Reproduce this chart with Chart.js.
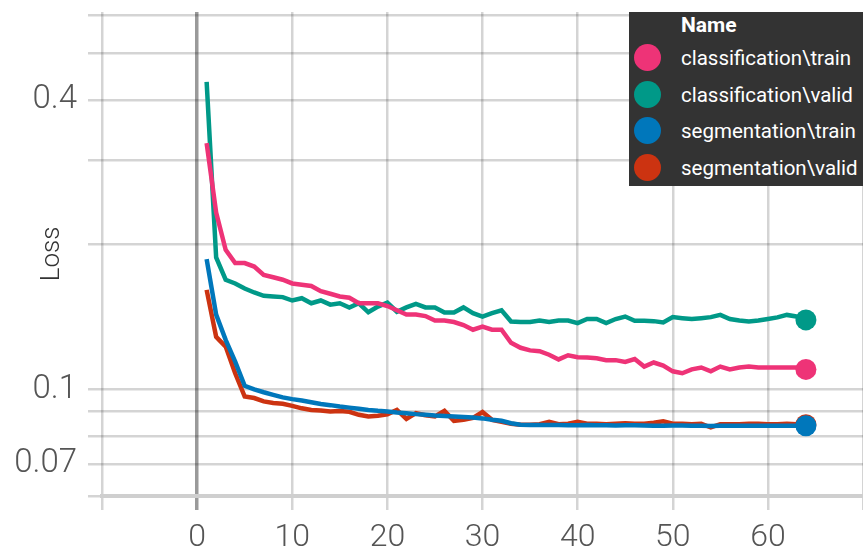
<!DOCTYPE html>
<html>
<head>
<meta charset="utf-8">
<script src="https://cdn.jsdelivr.net/npm/chart.js@4.4.1/dist/chart.umd.min.js"></script>
<style>
  html, body { margin: 0; padding: 0; background: #fff; }
  #wrap { position: relative; width: 863px; height: 554px; overflow: hidden; }
  #legend {
    position: absolute; left: 629px; top: 12px; width: 240px; height: 174px;
    background: #333; color: #fff; font-family: Roboto, sans-serif;
  }
  #legend .head { position: absolute; left: 52px; top: 0; line-height: 27px; font-size: 21px; font-weight: bold; }
  #legend .row { position: absolute; left: 0; height: 36px; line-height: 36px; font-size: 20.5px; white-space: nowrap; }
  #legend .dot { position: absolute; left: 5px; top: 4px; width: 27px; height: 27px; border-radius: 50%; }
  #legend .txt { position: absolute; left: 52px; top: 0; }
</style>
</head>
<body>
<div id="wrap">
  <canvas id="chart" width="863" height="554"></canvas>
  <div id="legend"><div class="head">Name</div></div>
</div>
<script>
// epochs
const steps = [1, 2, 3, 4, 5, 6, 7, 8, 9, 10, 11, 12, 13, 14, 15, 16, 17, 18, 19, 20,
  21, 22, 23, 24, 25, 26, 27, 28, 29, 30, 31, 32, 33, 34, 35, 36, 37, 38, 39, 40,
  41, 42, 43, 44, 45, 46, 47, 48, 49, 50, 51, 52, 53, 54, 55, 56, 57, 58, 59, 60,
  61, 62, 63, 64];

const seriesNames = ['classification\\train', 'classification\\valid', 'segmentation\\train', 'segmentation\\valid'];

const clsTrain = [0.325, 0.233, 0.195, 0.183, 0.183, 0.180, 0.173, 0.171, 0.169, 0.166,
  0.165, 0.164, 0.160, 0.158, 0.156, 0.155, 0.151, 0.151, 0.151, 0.149,
  0.146, 0.143, 0.143, 0.142, 0.139, 0.139, 0.138, 0.136, 0.133, 0.135,
  0.133, 0.133, 0.125, 0.122, 0.1205, 0.120, 0.118, 0.1154, 0.1177, 0.1166,
  0.1164, 0.116, 0.115, 0.115, 0.114, 0.1156, 0.1115, 0.1137, 0.112, 0.109,
  0.108, 0.110, 0.111, 0.109, 0.1115, 0.110, 0.111, 0.1115, 0.111, 0.111,
  0.111, 0.111, 0.111, 0.110];

const clsValid = [0.436, 0.188, 0.169, 0.166, 0.162, 0.159, 0.1565, 0.156, 0.1555, 0.153,
  0.1547, 0.151, 0.153, 0.150, 0.151, 0.148, 0.151, 0.1446, 0.1486, 0.1515,
  0.145, 0.148, 0.1506, 0.148, 0.148, 0.1444, 0.1444, 0.148, 0.144, 0.1417,
  0.144, 0.146, 0.1384, 0.138, 0.138, 0.139, 0.138, 0.139, 0.139, 0.1373,
  0.140, 0.140, 0.1373, 0.140, 0.1417, 0.1388, 0.1388, 0.1386, 0.1377, 0.1413,
  0.1406, 0.140, 0.1406, 0.1413, 0.1428, 0.140, 0.139, 0.1384, 0.139, 0.140,
  0.1411, 0.1428, 0.1417, 0.1394];

const segTrain = [0.1865, 0.143, 0.1267, 0.1142, 0.1017, 0.100, 0.0986, 0.0974, 0.0962, 0.0954,
  0.0948, 0.0940, 0.0932, 0.0927, 0.0921, 0.0916, 0.0911, 0.0906, 0.0902, 0.0899,
  0.0895, 0.0892, 0.0888, 0.0885, 0.0882, 0.0880, 0.0878, 0.0876, 0.0874, 0.0870,
  0.0864, 0.0860, 0.0850, 0.0844, 0.0843, 0.0843, 0.0843, 0.0843, 0.0842, 0.0842,
  0.0843, 0.0842, 0.0842, 0.0841, 0.0842, 0.0842, 0.0841, 0.0840, 0.0840, 0.0841,
  0.0841, 0.0840, 0.0840, 0.0839, 0.0840, 0.0840, 0.0840, 0.0840, 0.0840, 0.0840,
  0.0840, 0.0840, 0.0840, 0.0840];

const segValid = [0.161, 0.1286, 0.1227, 0.108, 0.0966, 0.0959, 0.0944, 0.0937, 0.0933, 0.0924,
  0.0913, 0.0906, 0.0904, 0.0899, 0.0901, 0.0898, 0.0885, 0.0878, 0.0881, 0.0887,
  0.0906, 0.0868, 0.0892, 0.0883, 0.0878, 0.0902, 0.0860, 0.0864, 0.0872, 0.0897,
  0.0864, 0.0856, 0.0848, 0.0844, 0.0844, 0.0846, 0.0856, 0.0846, 0.0848, 0.0856,
  0.0848, 0.0848, 0.0846, 0.0848, 0.0850, 0.0848, 0.0848, 0.0852, 0.0858, 0.0848,
  0.0848, 0.0846, 0.0848, 0.0833, 0.0846, 0.0846, 0.0846, 0.0848, 0.0848, 0.0846,
  0.0846, 0.0848, 0.0846, 0.0844];

// axis ticks: gridlines everywhere, labels only on some
const xGridValues = [-10, 0, 10, 20, 30, 40, 50, 60, 70];
const xLabelValues = [0, 10, 20, 30, 40, 50, 60];
const yGridValues = [0.06, 0.07, 0.08, 0.09, 0.1, 0.2, 0.3, 0.4, 0.5, 0.6];
const yLabelValues = [0.07, 0.1, 0.4];

const colors = ['#EE3377', '#009988', '#0077BB', '#CC3311'];
const allSeries = [clsTrain, clsValid, segTrain, segValid];

const gridColor = 'rgba(0,0,0,0.17)';

const datasets = allSeries.map((vals, i) => ({
    label: seriesNames[i],
    data: steps.map((s, j) => ({ x: s, y: vals[j] })),
    borderColor: colors[i],
    backgroundColor: colors[i],
    borderWidth: 4.5,
    tension: 0,
    pointRadius: ctx => ctx.dataIndex === steps.length - 1 ? 10.5 : 0,
    pointBorderWidth: 0,
    pointHoverRadius: 0
}));

// legend box
const legend = document.getElementById('legend');
seriesNames.forEach((name, i) => {
    const row = document.createElement('div');
    row.className = 'row';
    row.style.top = (28 + i * 36.5) + 'px';
    row.innerHTML = '<span class="dot" style="background:' + colors[i] + '"></span><span class="txt"></span>';
    row.querySelector('.txt').textContent = name;
    legend.appendChild(row);
});

// fixed axis boxes, no label overhang padding
function fixBox(scale, size) {
    if (scale.isHorizontal()) scale.height = size; else scale.width = size;
    scale.paddingTop = 0;
    scale.paddingBottom = 0;
    scale.paddingLeft = 0;
    scale.paddingRight = 0;
}

new Chart(document.getElementById('chart'), {
    type: 'line',
    data: { datasets: datasets },
    options: {
        responsive: false,
        animation: false,
        devicePixelRatio: 1,
        layout: { autoPadding: false, padding: { top: 12, right: 0, left: 0, bottom: 0 } },
        plugins: { legend: { display: false }, tooltip: { enabled: false } },
        scales: {
            x: {
                type: 'linear',
                min: -10,
                max: 70,
                afterBuildTicks: scale => { scale.ticks = xGridValues.map(v => ({ value: v })); },
                afterFit: scale => fixBox(scale, 58),
                grid: {
                    color: c => c.tick && c.tick.value === 0 ? '#9a9a9a' : gridColor,
                    lineWidth: c => c.tick && c.tick.value === 0 ? 3.5 : 2.5,
                    tickLength: 14
                },
                border: { color: '#cfcfcf', width: 4 },
                ticks: {
                    font: { family: 'Roboto', size: 32, weight: '300' },
                    color: '#555',
                    padding: 9,
                    maxRotation: 0,
                    autoSkip: false,
                    callback: v => xLabelValues.includes(v) ? String(v) : ''
                }
            },
            y: {
                type: 'logarithmic',
                min: 0.06,
                max: 0.609,
                afterBuildTicks: scale => { scale.ticks = yGridValues.map(v => ({ value: v })); },
                afterFit: scale => fixBox(scale, 102),
                grid: { color: gridColor, lineWidth: 2.5, tickLength: 14 },
                border: { display: false },
                ticks: {
                    font: { family: 'Roboto', size: 33, weight: '300' },
                    color: '#555',
                    padding: 11,
                    autoSkip: false,
                    callback: v => yLabelValues.includes(v) ? String(v) : ''
                },
                title: {
                    display: true,
                    text: 'Loss',
                    font: { family: 'Roboto', size: 26, weight: '300' },
                    color: '#333',
                    padding: { top: 37, bottom: 0 }
                }
            }
        }
    }
});
</script>
</body>
</html>
